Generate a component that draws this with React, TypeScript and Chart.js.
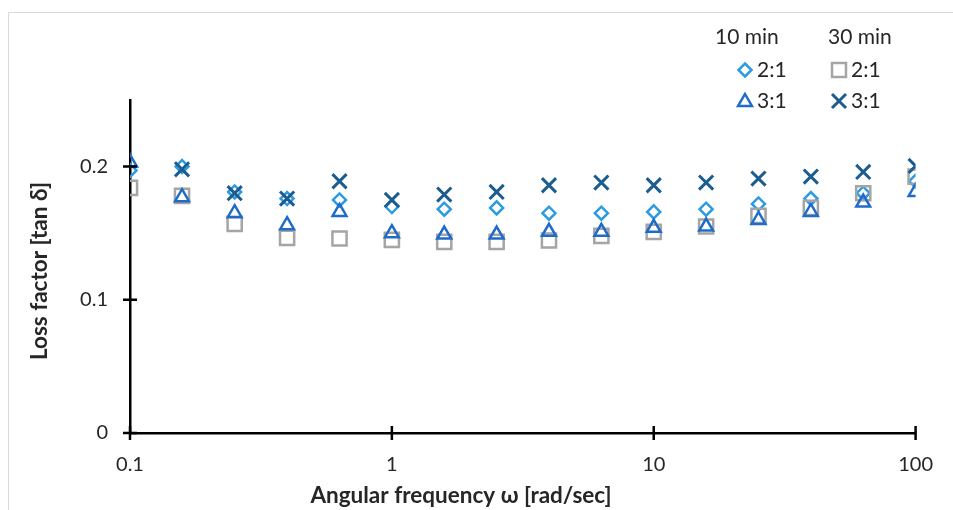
import React, { useEffect, useRef } from "react";
import { Chart, registerables } from "chart.js";

Chart.register(...registerables);

// Angular frequency (rad/sec)
const frequencies = [0.1, 0.158, 0.251, 0.398, 0.631, 1, 1.585, 2.512, 3.981, 6.31, 10, 15.85, 25.12, 39.81, 63.1, 100];

// 10 min, 2:1 (diamond)
const min10Ratio21 = [0.197, 0.2, 0.181, 0.176, 0.175, 0.17, 0.168, 0.169, 0.165, 0.165, 0.166, 0.168, 0.172, 0.176, 0.18, 0.189];
// 10 min, 3:1 (triangle)
const min10Ratio31 = [0.203, 0.177, 0.165, 0.156, 0.166, 0.15, 0.149, 0.149, 0.151, 0.151, 0.154, 0.155, 0.16, 0.166, 0.173, 0.181];
// 30 min, 2:1 (square)
const min30Ratio21 = [0.184, 0.178, 0.157, 0.1465, 0.146, 0.145, 0.1435, 0.1435, 0.1445, 0.148, 0.151, 0.155, 0.163, 0.169, 0.18, 0.1925];
// 30 min, 3:1 (x)
const min30Ratio31 = [null, 0.198, 0.18, 0.176, 0.189, 0.175, 0.179, 0.181, 0.186, 0.188, 0.186, 0.188, 0.191, 0.1925, 0.196, 0.2005];

const xTickValues = [0.1, 1, 10, 100];
const yTickValues = [0, 0.1, 0.2];

const legendGroups = ["10 min", "30 min"];
const legendLabels = ["2:1", "3:1", "2:1", "3:1"];

const xTitle = "Angular frequency ω [rad/sec]";
const yTitle = "Loss factor [tan δ]";

const C_DIAMOND = "#2C9BE0";
const C_TRIANGLE = "#1F6CC8";
const C_SQUARE = "#A5A5A5";
const C_CROSS = "#1C5D8F";

const FONT = "Lato, 'Open Sans', sans-serif";
const TEXT = "#262626";

function pts(vals: (number | null)[]) {
  return frequencies.map((x, i) => ({ x, y: vals[i] }));
}

function drawMarker(ctx: CanvasRenderingContext2D, style: string, x: number, y: number, color: string) {
  ctx.save();
  ctx.strokeStyle = color;
  ctx.lineWidth = style === "crossRot" ? 3 : 2.5;
  ctx.beginPath();
  if (style === "rectRot") {
    const r = 6.5;
    ctx.moveTo(x, y - r);
    ctx.lineTo(x + r, y);
    ctx.lineTo(x, y + r);
    ctx.lineTo(x - r, y);
    ctx.closePath();
  } else if (style === "triangle") {
    const r = 8;
    ctx.moveTo(x, y - r);
    ctx.lineTo(x + r * 0.866, y + r * 0.5);
    ctx.lineTo(x - r * 0.866, y + r * 0.5);
    ctx.closePath();
  } else if (style === "rect") {
    const s = 7;
    ctx.rect(x - s, y - s, 2 * s, 2 * s);
  } else {
    const s = 7;
    ctx.moveTo(x - s, y - s);
    ctx.lineTo(x + s, y + s);
    ctx.moveTo(x + s, y - s);
    ctx.lineTo(x - s, y + s);
  }
  ctx.stroke();
  ctx.restore();
}

const decorPlugin = {
  id: "decor",
  beforeDraw(chart: any) {
    const ctx = chart.ctx as CanvasRenderingContext2D;
    ctx.save();
    ctx.fillStyle = "#ffffff";
    ctx.fillRect(0, 0, chart.width, chart.height);
    ctx.strokeStyle = "#D9D9D9";
    ctx.lineWidth = 1;
    ctx.beginPath();
    ctx.moveTo(8.5, chart.height);
    ctx.lineTo(8.5, 12.5);
    ctx.lineTo(chart.width, 12.5);
    ctx.stroke();
    ctx.restore();
  },
  afterDraw(chart: any) {
    const ctx = chart.ctx as CanvasRenderingContext2D;
    const xs = chart.scales.x;
    const ys = chart.scales.y;
    const axisX = xs.left;
    const axisY = ys.bottom;
    ctx.save();
    ctx.strokeStyle = "#000";
    ctx.lineWidth = 2.5;
    ctx.beginPath();
    for (const v of xTickValues) {
      const px = xs.getPixelForValue(v);
      ctx.moveTo(px, axisY - 7);
      ctx.lineTo(px, axisY + 7);
    }
    for (const v of yTickValues) {
      const py = ys.getPixelForValue(v);
      ctx.moveTo(axisX - 7, py);
      ctx.lineTo(axisX + 7, py);
    }
    ctx.stroke();

    // axis titles (centered on the whole chart like the original)
    ctx.fillStyle = TEXT;
    ctx.font = `bold 22.5px ${FONT}`;
    ctx.textAlign = "center";
    ctx.textBaseline = "middle";
    ctx.fillText(xTitle, 461, 496);
    ctx.save();
    ctx.translate(40, 271);
    ctx.rotate(-Math.PI / 2);
    ctx.fillText(yTitle, 0, 0);
    ctx.restore();

    // legend
    ctx.font = `21px ${FONT}`;
    ctx.textAlign = "left";
    ctx.fillText(legendGroups[0], 715, 37);
    ctx.fillText(legendGroups[1], 828, 37);
    const styles = ["rectRot", "triangle", "rect", "crossRot"];
    const colors = [C_DIAMOND, C_TRIANGLE, C_SQUARE, C_CROSS];
    const mx = [745, 745, 839, 839];
    const my = [70, 101, 70, 101];
    for (let i = 0; i < 4; i++) {
      drawMarker(ctx, styles[i], mx[i], my[i] + (styles[i] === "triangle" ? 1 : 0), colors[i]);
      ctx.fillStyle = TEXT;
      ctx.fillText(legendLabels[i], mx[i] + 12, my[i]);
    }
    ctx.restore();
  },
};

export default function App() {
  const ref = useRef<HTMLCanvasElement | null>(null);

  useEffect(() => {
    if (!ref.current) return;
    const common = { showLine: false, backgroundColor: "rgba(0,0,0,0)" };
    const chart = new Chart(ref.current, {
      type: "scatter",
      data: {
        datasets: [
          { ...common, label: "10 min 2:1", data: pts(min10Ratio21), pointStyle: "rectRot", pointRadius: 6.5, pointBorderWidth: 2.5, borderColor: C_DIAMOND, order: 3 },
          { ...common, label: "30 min 2:1", data: pts(min30Ratio21), pointStyle: "rect", pointRadius: 10, pointBorderWidth: 2.5, borderColor: C_SQUARE, order: 2 },
          { ...common, label: "10 min 3:1", data: pts(min10Ratio31), pointStyle: "triangle", pointRadius: 8, pointBorderWidth: 2.5, borderColor: C_TRIANGLE, order: 1 },
          { ...common, label: "30 min 3:1", data: pts(min30Ratio31), pointStyle: "crossRot", pointRadius: 10, pointBorderWidth: 3, borderColor: C_CROSS, order: 0 },
        ] as any,
      },
      options: {
        responsive: false,
        animation: false,
        layout: { padding: { top: 100, right: 37, left: 0, bottom: 0 } },
        plugins: { legend: { display: false }, tooltip: { enabled: false } },
        scales: {
          x: {
            type: "logarithmic",
            min: 0.1,
            max: 100,
            grid: { display: false, drawTicks: false },
            border: { display: true, color: "#000", width: 2.5 },
            afterBuildTicks: (s: any) => {
              s.ticks = xTickValues.map((v) => ({ value: v }));
            },
            afterFit: (s: any) => {
              s.height = 77;
            },
            ticks: {
              padding: 20,
              autoSkip: false,
              maxRotation: 0,
              color: TEXT,
              font: { family: FONT, size: 20 },
              callback: (v: any) => String(v),
            },
          },
          y: {
            type: "linear",
            min: 0,
            max: 0.25,
            grid: { display: false, drawTicks: false },
            border: { display: true, color: "#000", width: 2.5 },
            afterBuildTicks: (s: any) => {
              s.ticks = yTickValues.map((v) => ({ value: v }));
            },
            afterFit: (s: any) => {
              s.width = 130;
            },
            ticks: {
              padding: 22,
              color: TEXT,
              font: { family: FONT, size: 20 },
              callback: (v: any) => String(Math.round(v * 10) / 10),
            },
          },
        },
      } as any,
      plugins: [decorPlugin],
    });
    return () => chart.destroy();
  }, []);

  return (
    <div style={{ position: "absolute", left: 0, top: 0, width: 953, height: 510 }}>
      <canvas ref={ref} width={953} height={510} style={{ display: "block", width: 953, height: 510 }} />
    </div>
  );
}
